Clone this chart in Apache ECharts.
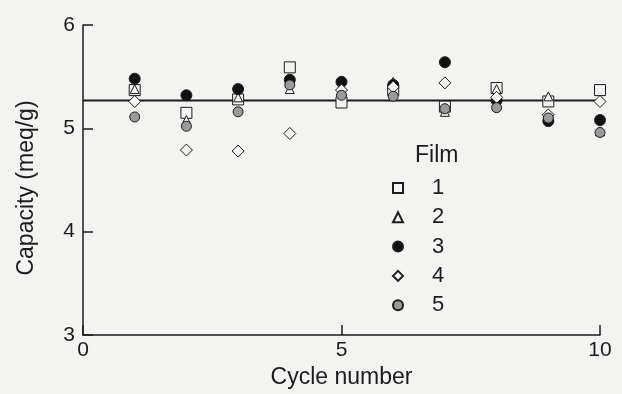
<!DOCTYPE html>
<html>
<head>
<meta charset="utf-8">
<script src="https://cdn.jsdelivr.net/npm/echarts@6/dist/echarts.min.js"></script>
<style>
html,body{margin:0;padding:0;background:#f3f3f1;}
#chart{width:622px;height:394px;}
</style>
</head>
<body>
<div id="chart"></div>
<script>
var cycles = [1, 2, 3, 4, 5, 6, 7, 8, 9, 10];
var film1 = [5.37, 5.15, 5.28, 5.59, 5.25, 5.37, 5.21, 5.39, 5.26, 5.37];
var film2 = [5.38, 5.08, 5.30, 5.38, 5.36, 5.45, 5.16, 5.38, 5.31, 4.97];
var film3 = [5.48, 5.32, 5.38, 5.47, 5.45, 5.42, 5.64, 5.27, 5.07, 5.08];
var film4 = [5.26, 4.79, 4.78, 4.95, 5.37, 5.40, 5.44, 5.30, 5.13, 5.26];
var film5 = [5.11, 5.02, 5.16, 5.42, 5.32, 5.31, 5.19, 5.20, 5.10, 4.96];
var filmNames = ['1', '2', '3', '4', '5'];
var meanCapacity = 5.27;
var meanLineSpan = [0, 10.4];
var xTicks = [0, 5, 10];
var yTicks = [3, 4, 5, 6];

function pairs(vals) { return cycles.map(function (c, i) { return [c, vals[i]]; }); }

var ink = '#1c1c1c';
var font = 'Liberation Sans';
var chart = echarts.init(document.getElementById('chart'));
var symbols = ['rect', 'triangle', 'circle', 'diamond', 'circle'];
var sizes = [11, 9, 11, 12, 10];
var fills = ['#f3f3f1', '#f3f3f1', '#111111', '#f3f3f1', '#9a9a9a'];
var allData = [film1, film2, film3, film4, film5];

var series = allData.map(function (vals, i) {
  return {
    name: filmNames[i],
    type: 'scatter',
    symbol: symbols[i],
    symbolSize: sizes[i],
    itemStyle: { color: fills[i], borderColor: ink, borderWidth: 1, opacity: 1 },
    data: pairs(vals),
    z: 3 + i
  };
});
series.unshift({
  name: 'mean',
  type: 'line',
  data: [[meanLineSpan[0], meanCapacity], [meanLineSpan[1], meanCapacity]],
  showSymbol: false,
  symbol: 'none',
  clip: false,
  lineStyle: { color: ink, width: 2 },
  z: 2,
  silent: true
});

chart.setOption({
  backgroundColor: '#f3f3f1',
  animation: false,
  textStyle: { fontFamily: font, color: ink },
  title: {
    text: 'Film',
    left: 410,
    top: 139,
    textStyle: { fontFamily: font, fontSize: 23, fontWeight: 'normal', color: ink }
  },
  legend: {
    data: filmNames,
    orient: 'vertical',
    left: 387,
    top: 172,
    itemWidth: 10,
    itemHeight: 10,
    itemGap: 7.3,
    textStyle: { fontFamily: font, fontSize: 22, color: ink, padding: [0, 0, 0, 24] }
  },
  grid: { left: 83, right: 22, top: 25, bottom: 59 },
  xAxis: {
    type: 'value',
    min: xTicks[0],
    max: xTicks[xTicks.length - 1],
    interval: 5,
    name: 'Cycle number',
    nameLocation: 'middle',
    nameGap: 30,
    nameTextStyle: { fontFamily: font, fontSize: 23, color: ink },
    axisLine: { lineStyle: { color: ink, width: 1.5 } },
    axisTick: { inside: true, length: 10, lineStyle: { color: ink, width: 1.5 } },
    axisLabel: { fontFamily: font, fontSize: 21, color: ink, margin: 5 },
    splitLine: { show: false }
  },
  yAxis: {
    type: 'value',
    min: yTicks[0],
    max: yTicks[yTicks.length - 1],
    interval: 1,
    name: 'Capacity (meq/g)',
    nameLocation: 'middle',
    nameGap: 45,
    nameTextStyle: { fontFamily: font, fontSize: 23, color: ink, padding: [0, 16, 0, 0] },
    axisLine: { lineStyle: { color: ink, width: 1.5 } },
    axisTick: { inside: true, length: 10, lineStyle: { color: ink, width: 1.5 } },
    axisLabel: { fontFamily: font, fontSize: 21, color: ink, margin: 8 },
    splitLine: { show: false }
  },
  series: series
});
</script>
</body>
</html>
